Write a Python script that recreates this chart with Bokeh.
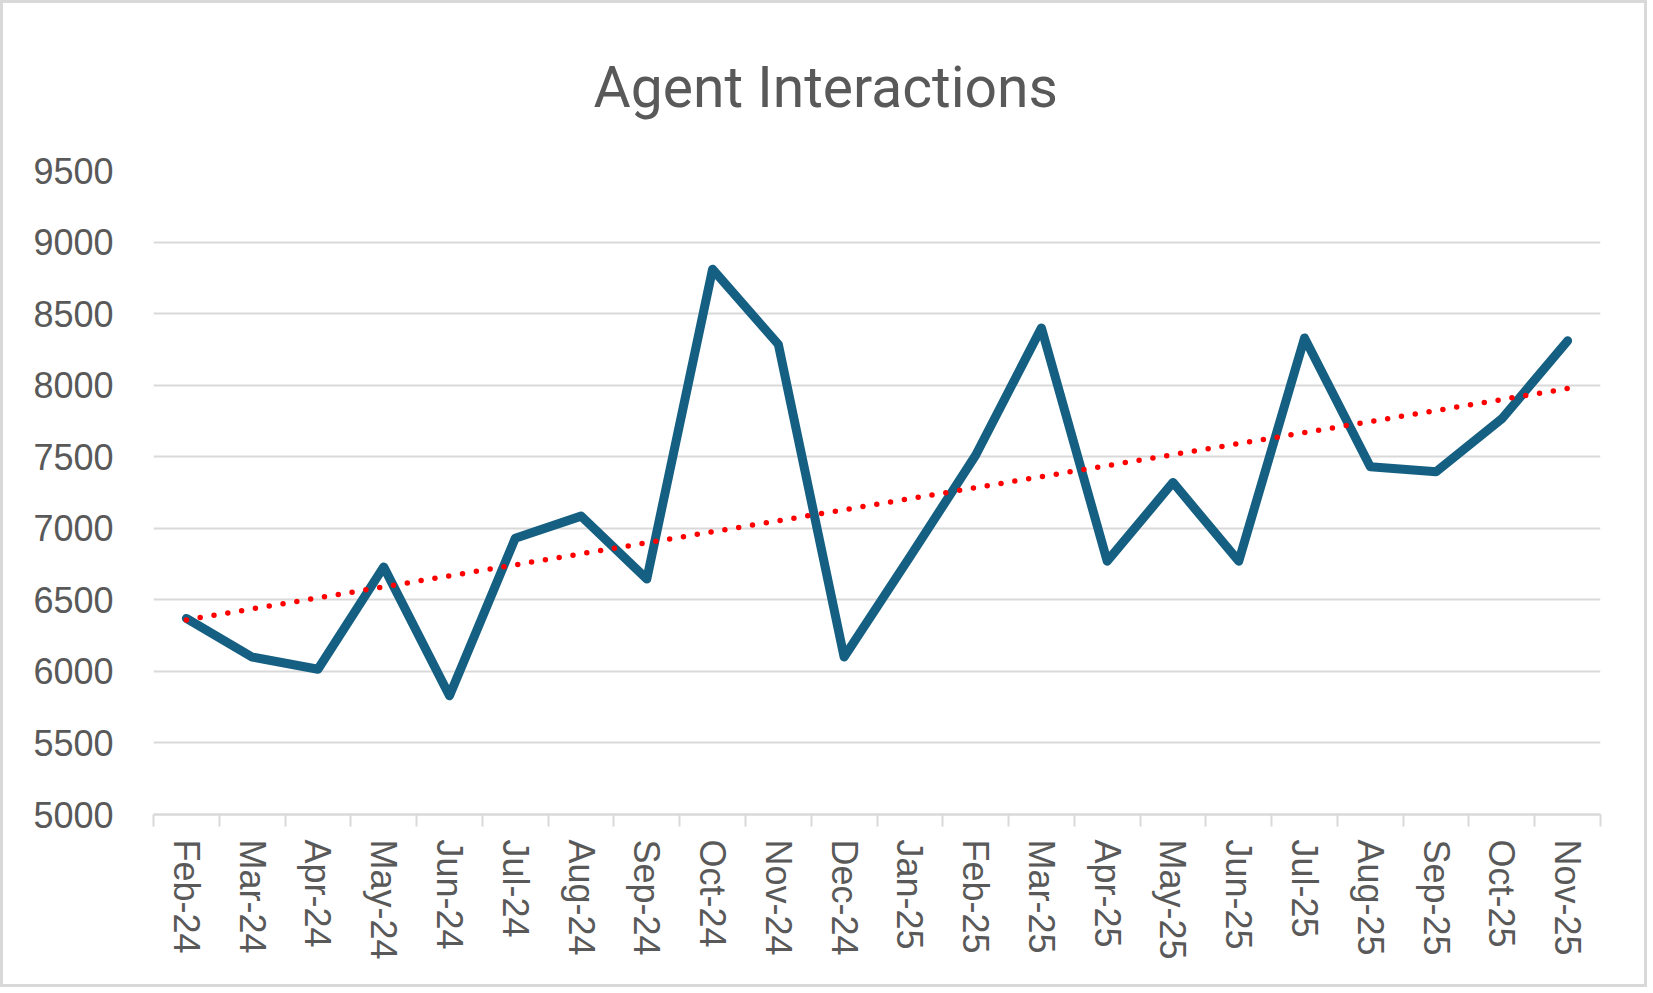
import numpy as np
from bokeh.plotting import figure
from bokeh.models import Range1d, FixedTicker, Title
from bokeh.embed import file_html
from bokeh.resources import INLINE

# Monthly agent interaction counts
months = ["Feb-24", "Mar-24", "Apr-24", "May-24", "Jun-24", "Jul-24", "Aug-24",
          "Sep-24", "Oct-24", "Nov-24", "Dec-24", "Jan-25", "Feb-25", "Mar-25",
          "Apr-25", "May-25", "Jun-25", "Jul-25", "Aug-25", "Sep-25", "Oct-25",
          "Nov-25"]
interactions = [6370, 6100, 6015, 6730, 5830, 6930, 7085, 6645, 8810, 8285, 6100,
                6800, 7510, 8400, 6770, 7320, 6770, 8330, 7430, 7395, 7765, 8310]
y_ticks = [5000, 5500, 6000, 6500, 7000, 7500, 8000, 8500, 9000, 9500]
title_text = "Agent Interactions"

TEXT_GREY = "#595959"
LINE_GREY = "#d9d9d9"

idx = np.arange(len(months))
x = idx + 0.5  # category centres
slope, intercept = np.polyfit(idx, interactions, 1)
trend = intercept + slope * idx  # linear trendline

p = figure(width=1647, height=987,
           x_range=Range1d(0, len(months)),
           y_range=Range1d(y_ticks[0], y_ticks[-1]),
           output_backend="svg", toolbar_location=None,
           min_border_left=150, min_border_right=50,
           min_border_top=167, min_border_bottom=176)
p.styles = {"border": f"3px solid {LINE_GREY}"}
p.outline_line_color = None
p.background_fill_color = "white"
p.border_fill_color = "white"

p.line(x, interactions, line_color="#156082", line_width=9,
       line_join="round", line_cap="round")
p.line(x, trend, line_color="#ff0000", line_width=5.5,
       line_dash="0 14", line_cap="round")

# x axis: labels at category centres, tick marks on category boundaries
xa = p.xaxis[0]
xa.ticker = FixedTicker(ticks=list(x), minor_ticks=list(range(len(months) + 1)))
xa.major_label_overrides = {float(xi): m for xi, m in zip(x, months)}
xa.major_tick_line_color = None
xa.major_tick_out = 0
xa.major_tick_in = 0
xa.minor_tick_line_color = LINE_GREY
xa.minor_tick_line_width = 2
xa.minor_tick_out = 12
xa.minor_tick_in = 0
xa.axis_line_color = LINE_GREY
xa.axis_line_width = 2.5
xa.major_label_orientation = "vertical"
xa.major_label_standoff = 13
xa.major_label_text_font = "Liberation Sans"
xa.major_label_text_font_size = "36px"
xa.major_label_text_color = TEXT_GREY
p.xgrid.visible = False

ya = p.yaxis[0]
ya.ticker = FixedTicker(ticks=y_ticks)
ya.axis_line_color = None
ya.major_tick_line_color = None
ya.minor_tick_line_color = None
ya.major_tick_out = 0
ya.major_tick_in = 0
ya.major_label_standoff = 40
ya.major_label_text_font = "Liberation Sans"
ya.major_label_text_font_size = "36px"
ya.major_label_text_color = TEXT_GREY
p.ygrid.grid_line_color = LINE_GREY
p.ygrid.grid_line_width = 2.2

p.add_layout(Title(text=title_text, align="left", offset=440, standoff=96,
                   vertical_align="top",
                   text_font="Roboto", text_font_size="57px",
                   text_font_style="normal", text_color=TEXT_GREY), "above")

open("out.html", "w").write(file_html(p, INLINE))
